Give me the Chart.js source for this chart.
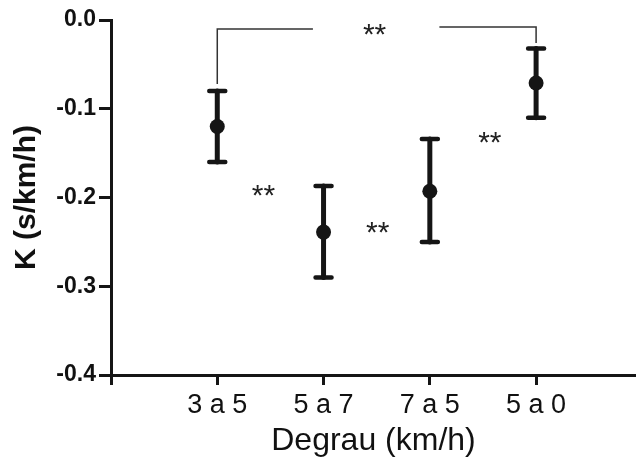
<!DOCTYPE html>
<html>
<head>
<meta charset="utf-8">
<script src="https://cdn.jsdelivr.net/npm/chart.js@4"></script>
<style>
  body { margin: 0; background: #fff; }
</style>
</head>
<body>
<canvas id="chart_kDegrau" width="636" height="472"></canvas>
<script>
// categories and values
var categories = ['3 a 5', '5 a 7', '7 a 5', '5 a 0'];
var means = [-0.120, -0.239, -0.193, -0.071];
var upper = [-0.080, -0.187, -0.134, -0.032];
var lower = [-0.160, -0.290, -0.250, -0.110];

// significance bracket between 3 a 5 and 5 a 0
var bracketLeftX = [1, 1, 1.90];
var bracketLeftY = [-0.072, -0.010, -0.010];
var bracketRightX = [3.09, 4, 4];
var bracketRightY = [-0.008, -0.008, -0.026];

// "**" marks
var starX = [2.48, 1.435, 2.51, 3.565];
var starY = [-0.011, -0.193, -0.234, -0.133];

var fontFamily = '"Liberation Sans", Arial, sans-serif';
var ink = '#151515';

var errorBarsPlugin = {
    id: 'errorBars',
    beforeDatasetsDraw: function(chart) {
        var ctx = chart.ctx;
        var x = chart.scales.x, y = chart.scales.y;
        ctx.save();
        ctx.strokeStyle = ink;
        ctx.lineCap = 'round';
        means.forEach(function(m, i) {
            var px = x.getPixelForValue(i + 1);
            var top = y.getPixelForValue(upper[i]);
            var bot = y.getPixelForValue(lower[i]);
            ctx.lineWidth = 5;
            ctx.beginPath();
            ctx.moveTo(px, top);
            ctx.lineTo(px, bot);
            ctx.stroke();
            ctx.lineWidth = 4.5;
            ctx.beginPath();
            ctx.moveTo(px - 8, top); ctx.lineTo(px + 8, top);
            ctx.moveTo(px - 8, bot); ctx.lineTo(px + 8, bot);
            ctx.stroke();
        });
        ctx.restore();
    },
    afterDatasetsDraw: function(chart) {
        var ctx = chart.ctx;
        var x = chart.scales.x, y = chart.scales.y;
        ctx.save();
        ctx.fillStyle = '#222';
        ctx.font = '30px ' + fontFamily;
        ctx.textAlign = 'center';
        ctx.textBaseline = 'alphabetic';
        starX.forEach(function(sx, i) {
            ctx.fillText('**', x.getPixelForValue(sx), y.getPixelForValue(starY[i]) + 14);
        });
        ctx.restore();
    }
};

var chart_kDegrau = new Chart(document.getElementById('chart_kDegrau'), {
    type: 'scatter',
    data: {
        datasets: [
            {
                label: 'K',
                data: means.map(function(m, i) { return {x: i + 1, y: m}; }),
                pointRadius: 7.5,
                pointBackgroundColor: ink,
                pointBorderWidth: 0
            },
            {
                type: 'line',
                data: bracketLeftX.map(function(v, i) { return {x: v, y: bracketLeftY[i]}; }),
                borderColor: '#333',
                borderWidth: 1.5,
                pointRadius: 0,
                fill: false
            },
            {
                type: 'line',
                data: bracketRightX.map(function(v, i) { return {x: v, y: bracketRightY[i]}; }),
                borderColor: '#333',
                borderWidth: 1.5,
                pointRadius: 0,
                fill: false
            }
        ]
    },
    options: {
        animation: false,
        responsive: false,
        layout: { autoPadding: false, padding: { top: 20, left: 0, right: 0, bottom: 0 } },
        plugins: {
            legend: { display: false },
            tooltip: { enabled: false }
        },
        scales: {
            x: {
                type: 'linear',
                min: 0,
                max: 4.94,
                afterBuildTicks: function(scale) {
                    scale.ticks = [0, 1, 2, 3, 4].map(function(v) { return {value: v}; });
                },
                afterFit: function(scale) {
                    scale.height = 97;
                    scale.paddingLeft = 0;
                    scale.paddingRight = 0;
                },
                ticks: {
                    autoSkip: false,
                    maxRotation: 0,
                    padding: 4,
                    color: '#111',
                    font: { family: fontFamily, size: 27 },
                    callback: function(value) {
                        return value >= 1 ? categories[value - 1] : '';
                    }
                },
                grid: {
                    drawOnChartArea: false,
                    tickLength: 10,
                    tickWidth: 3,
                    tickColor: ink
                },
                border: { width: 3, color: ink },
                title: {
                    display: true,
                    text: 'Degrau (km/h)',
                    color: '#111',
                    font: { family: fontFamily, size: 32 },
                    padding: { top: 0, bottom: 12 }
                }
            },
            y: {
                min: -0.4,
                max: 0,
                afterFit: function(scale) { scale.width = 111; },
                ticks: {
                    stepSize: 0.1,
                    padding: 3,
                    color: '#111',
                    font: { family: fontFamily, size: 23, weight: 'bold' },
                    callback: function(value) { return value.toFixed(1); }
                },
                grid: {
                    drawOnChartArea: false,
                    tickLength: 12,
                    tickWidth: 3,
                    tickColor: ink
                },
                border: { width: 3, color: ink },
                title: {
                    display: true,
                    text: 'K (s/km/h)',
                    color: '#111',
                    font: { family: fontFamily, size: 30, weight: 'bold' },
                    padding: { top: 9, bottom: 0 }
                }
            }
        }
    },
    plugins: [errorBarsPlugin, {
        id: 'whiteBackground',
        beforeDraw: function(chart) {
            var ctx = chart.canvas.getContext('2d');
            ctx.save();
            ctx.globalCompositeOperation = 'destination-over';
            ctx.fillStyle = 'white';
            ctx.fillRect(0, 0, chart.canvas.width, chart.canvas.height);
            ctx.restore();
        }
    }]
});
</script>
</body>
</html>
